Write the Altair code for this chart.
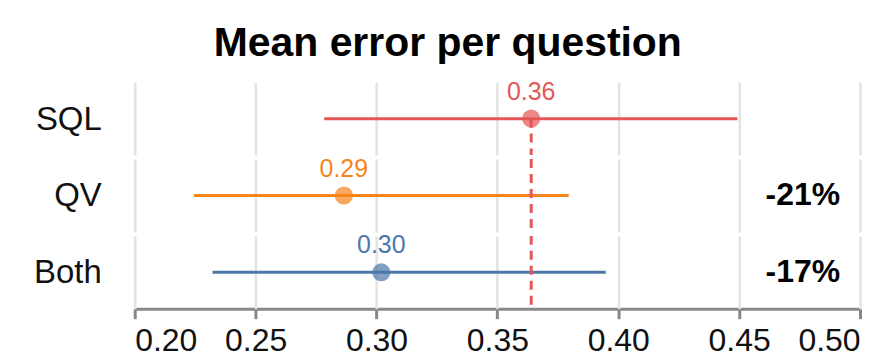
import altair as alt
import pandas as pd

methods = ["SQL", "QV", "Both"]
means = [0.364, 0.2865, 0.302]
lows = [0.2784, 0.2245, 0.2322]
highs = [0.4493, 0.3795, 0.3948]
mean_labels = ["0.36", "0.29", "0.30"]
diff_labels = ["", "-21%", "-17%"]
colors = ["#e45756", "#f58518", "#4c78a8"]
rule_tops = [0.5, 1.0, 1.0]
ref_value = means[0]
x_ticks = [0.20, 0.25, 0.30, 0.35, 0.40, 0.45, 0.50]

df = pd.DataFrame({
    "method": methods,
    "mean": means,
    "lo": lows,
    "hi": highs,
    "mlabel": mean_labels,
    "dlabel": diff_labels,
    "color": colors,
    "mid": [0.5] * 3,
    "rtop": rule_tops,
    "rbot": [0.0] * 3,
    "ref": [ref_value] * 3,
})

FONT = "Liberation Sans"
W = 727
H = 73

xscale = alt.Scale(domain=[0.2, 0.5], nice=False, zero=False)
xaxis = alt.Axis(values=x_ticks, format=".2f", title=None, labelFontSize=32,
                 labelFont=FONT, labelColor="#111", labelFlush=True,
                 tickSize=10, tickWidth=3, tickColor="#888", domainColor="#888",
                 domainWidth=3, gridColor="#e3e3e3", gridWidth=2.5,
                 labelPadding=7)
yscale = alt.Scale(domain=[0, 1])

base = alt.Chart()

bars = base.mark_rule(strokeWidth=3).encode(
    x=alt.X("lo:Q", scale=xscale, axis=xaxis),
    x2="hi:Q",
    y=alt.Y("mid:Q", scale=yscale, axis=None),
    color=alt.Color("color:N", scale=None),
)

ref_rule = base.mark_rule(strokeWidth=3, strokeDash=[9, 6], color="#e45756").encode(
    x=alt.X("ref:Q"),
    y=alt.Y("rtop:Q"),
    y2="rbot:Q",
)

points = base.mark_point(filled=True, size=330, opacity=0.7).encode(
    x=alt.X("mean:Q"),
    y=alt.Y("mid:Q"),
    color=alt.Color("color:N", scale=None),
)

mtext = base.mark_text(fontSize=25, font=FONT, dy=-19, baseline="alphabetic").encode(
    x=alt.X("mean:Q"),
    y=alt.Y("mid:Q"),
    text="mlabel:N",
    color=alt.Color("color:N", scale=None),
)

dtext = base.mark_text(fontSize=32, font=FONT, fontWeight="bold", align="right",
                       baseline="middle", color="black").encode(
    x=alt.value(W - 20),
    y=alt.Y("mid:Q"),
    text="dlabel:N",
)

cat_text = base.mark_text(fontSize=33, font=FONT, align="right",
                          baseline="middle", color="#111", dy=1).encode(
    x=alt.value(-33),
    y=alt.Y("mid:Q"),
    text="method:N",
)

layered = alt.layer(bars, ref_rule, points, mtext, dtext, cat_text, data=df).properties(
    width=W, height=H
)

chart = layered.facet(
    row=alt.Row("method:N", sort=methods,
                header=alt.Header(title=None, labels=False)),
    spacing=4,
    bounds="flush",
).properties(
    title=alt.TitleParams("Mean error per question", fontSize=41, font=FONT,
                          fontWeight="bold", color="black", anchor="middle", offset=15),
    padding={"left": 26, "top": 14, "right": 0, "bottom": 0},
).configure_view(stroke=None)

chart.save("out.html", embed_options={"renderer": "svg", "actions": False})
